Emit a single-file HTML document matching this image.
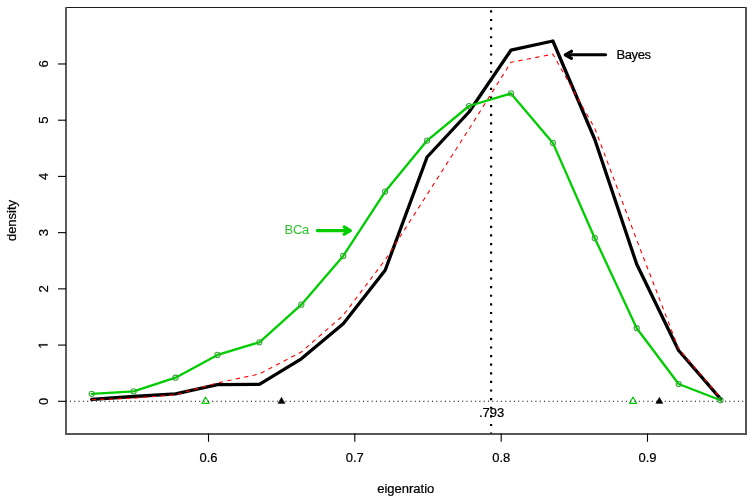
<!DOCTYPE html>
<html><head><meta charset="utf-8"><style>
html,body{margin:0;padding:0;background:#fff;}
svg{display:block;will-change:transform;}
text{font-family:"Liberation Sans",sans-serif;font-size:13px;fill:#000;stroke:#000;stroke-width:0.22px;}
</style></head><body>
<svg width="754" height="503" viewBox="0 0 754 503">
<rect width="754" height="503" fill="#fff"/>
<line x1="65" y1="7.5" x2="747" y2="7.5" stroke="#1c1c1c" stroke-width="1.1"/>
<line x1="65" y1="434" x2="747" y2="434" stroke="#575757" stroke-width="2"/>
<line x1="66" y1="7" x2="66" y2="435" stroke="#5c5c5c" stroke-width="2"/>
<line x1="746" y1="7" x2="746" y2="435" stroke="#555" stroke-width="2"/>
<line x1="58" y1="401.30" x2="66.0" y2="401.30" stroke="#000" stroke-width="1.1"/>
<text transform="translate(47.6 401.30) rotate(-90)" text-anchor="middle">0</text>
<line x1="58" y1="345.08" x2="66.0" y2="345.08" stroke="#000" stroke-width="1.1"/>
<path transform="translate(47.6 345.08) rotate(-90) translate(-3.615 0) scale(0.0063477 -0.0063477)" d="M515 0V1237L197 1010V1180L530 1409H696V0Z" fill="#000" stroke="#000" stroke-width="34"/>
<line x1="58" y1="288.86" x2="66.0" y2="288.86" stroke="#000" stroke-width="1.1"/>
<text transform="translate(47.6 288.86) rotate(-90)" text-anchor="middle">2</text>
<line x1="58" y1="232.64" x2="66.0" y2="232.64" stroke="#000" stroke-width="1.1"/>
<text transform="translate(47.6 232.64) rotate(-90)" text-anchor="middle">3</text>
<line x1="58" y1="176.42" x2="66.0" y2="176.42" stroke="#000" stroke-width="1.1"/>
<text transform="translate(47.6 176.42) rotate(-90)" text-anchor="middle">4</text>
<line x1="58" y1="120.20" x2="66.0" y2="120.20" stroke="#000" stroke-width="1.1"/>
<text transform="translate(47.6 120.20) rotate(-90)" text-anchor="middle">5</text>
<line x1="58" y1="63.98" x2="66.0" y2="63.98" stroke="#000" stroke-width="1.1"/>
<text transform="translate(47.6 63.98) rotate(-90)" text-anchor="middle">6</text>
<line x1="208.5" y1="433.5" x2="208.5" y2="441.8" stroke="#000" stroke-width="1.1"/>
<text x="208.5" y="461.7" text-anchor="middle">0.6</text>
<line x1="354.8" y1="433.5" x2="354.8" y2="441.8" stroke="#000" stroke-width="1.1"/>
<text x="354.8" y="461.7" text-anchor="middle">0.7</text>
<line x1="501.2" y1="433.5" x2="501.2" y2="441.8" stroke="#000" stroke-width="1.1"/>
<text x="501.2" y="461.7" text-anchor="middle">0.8</text>
<line x1="647.5" y1="433.5" x2="647.5" y2="441.8" stroke="#000" stroke-width="1.1"/>
<text x="647.5" y="461.7" text-anchor="middle">0.9</text>
<text x="405.75" y="492.5" text-anchor="middle">eigenratio</text>
<text transform="translate(16.2 220.5) rotate(-90)" text-anchor="middle">density</text>
<line x1="491.1" y1="7.5" x2="491.1" y2="433.5" stroke="#000" stroke-width="2.2" stroke-dasharray="2.155 6.462" stroke-dashoffset="-2.82"/>
<polyline points="91.69,399.40 133.62,396.50 175.54,393.80 217.47,384.60 259.39,384.30 301.32,358.80 343.25,323.80 385.17,270.30 427.10,157.00 469.02,112.00 510.95,50.20 552.88,41.00 594.80,139.50 636.73,264.30 678.65,350.50 720.58,398.80" fill="none" stroke="#000" stroke-width="3.3" stroke-linejoin="round" stroke-linecap="round"/>
<polyline points="91.69,399.70 133.62,398.20 175.54,394.70 217.47,382.90 259.39,374.00 301.32,352.00 343.25,315.30 385.17,259.90 427.10,194.50 469.02,129.00 510.95,62.30 552.88,54.20 594.80,128.30 636.73,240.00 678.65,348.80 720.58,397.80" fill="none" stroke="#ff0000" stroke-width="1.1" stroke-dasharray="4.3 4.3"/>
<polyline points="91.69,393.80 133.62,391.40 175.54,377.70 217.47,354.90 259.39,342.30 301.32,304.65 343.25,255.90 385.17,191.60 427.10,140.60 469.02,106.00 510.95,93.40 552.88,142.90 594.80,238.20 636.73,328.20 678.65,384.00 720.58,400.20" fill="none" stroke="#00cd00" stroke-width="2.3" stroke-linejoin="round" stroke-linecap="round"/>
<circle cx="91.69" cy="393.80" r="2.6" fill="none" stroke="#3ca23c" stroke-width="1.05"/>
<circle cx="133.62" cy="391.40" r="2.6" fill="none" stroke="#3ca23c" stroke-width="1.05"/>
<circle cx="175.54" cy="377.70" r="2.6" fill="none" stroke="#3ca23c" stroke-width="1.05"/>
<circle cx="217.47" cy="354.90" r="2.6" fill="none" stroke="#3ca23c" stroke-width="1.05"/>
<circle cx="259.39" cy="342.30" r="2.6" fill="none" stroke="#3ca23c" stroke-width="1.05"/>
<circle cx="301.32" cy="304.65" r="2.6" fill="none" stroke="#3ca23c" stroke-width="1.05"/>
<circle cx="343.25" cy="255.90" r="2.6" fill="none" stroke="#3ca23c" stroke-width="1.05"/>
<circle cx="385.17" cy="191.60" r="2.6" fill="none" stroke="#3ca23c" stroke-width="1.05"/>
<circle cx="427.10" cy="140.60" r="2.6" fill="none" stroke="#3ca23c" stroke-width="1.05"/>
<circle cx="469.02" cy="106.00" r="2.6" fill="none" stroke="#3ca23c" stroke-width="1.05"/>
<circle cx="510.95" cy="93.40" r="2.6" fill="none" stroke="#3ca23c" stroke-width="1.05"/>
<circle cx="552.88" cy="142.90" r="2.6" fill="none" stroke="#3ca23c" stroke-width="1.05"/>
<circle cx="594.80" cy="238.20" r="2.6" fill="none" stroke="#3ca23c" stroke-width="1.05"/>
<circle cx="636.73" cy="328.20" r="2.6" fill="none" stroke="#3ca23c" stroke-width="1.05"/>
<circle cx="678.65" cy="384.00" r="2.6" fill="none" stroke="#3ca23c" stroke-width="1.05"/>
<circle cx="720.58" cy="400.20" r="2.6" fill="none" stroke="#3ca23c" stroke-width="1.05"/>
<polygon points="201.90,403.35 209.10,403.35 205.50,397.1" fill="none" stroke="#00cd00" stroke-width="1.1" stroke-linejoin="round"/>
<polygon points="629.40,403.35 636.60,403.35 633.00,397.1" fill="none" stroke="#00cd00" stroke-width="1.1" stroke-linejoin="round"/>
<polygon points="277.90,403.4 285.10,403.4 281.50,397.15" fill="#000" stroke="#000" stroke-width="0.4" stroke-linejoin="round"/>
<polygon points="655.80,403.4 663.00,403.4 659.40,397.15" fill="#000" stroke="#000" stroke-width="0.4" stroke-linejoin="round"/>
<line x1="66.0" y1="401.3" x2="745.5" y2="401.3" stroke="#000" stroke-width="1.1" stroke-dasharray="1.08 3.23" stroke-dashoffset="-3.91"/>
<text x="284.6" y="234.3" style="fill:#2ec42e;stroke:none;letter-spacing:-0.3px">BCa</text>
<line x1="317.4" y1="230.6" x2="349.5" y2="230.6" stroke="#00cd00" stroke-width="3.2" stroke-linecap="round"/>
<polyline points="344.2,227.0 350.3,230.6 344.2,234.2" fill="none" stroke="#00cd00" stroke-width="3.2" stroke-linejoin="round" stroke-linecap="round"/>
<text x="616.5" y="58.7" style="letter-spacing:-0.42px">Bayes</text>
<line x1="566" y1="54.75" x2="605.5" y2="54.75" stroke="#000" stroke-width="3.2" stroke-linecap="round"/>
<polyline points="571.5,51.3 565.3,54.8 571.5,58.3" fill="none" stroke="#000" stroke-width="3.2" stroke-linejoin="round" stroke-linecap="round"/>
<text x="491.6" y="417.4" text-anchor="middle">.793</text>
</svg>
</body></html>
